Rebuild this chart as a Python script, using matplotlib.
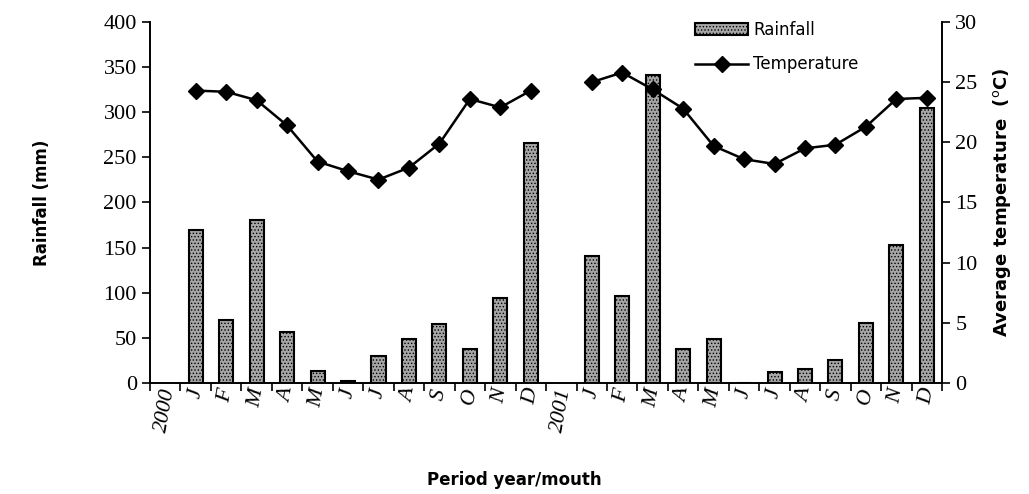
import matplotlib.pyplot as plt
import numpy as np

# x categories: year marker followed by the twelve months
months = ['J', 'F', 'M', 'A', 'M', 'J', 'J', 'A', 'S', 'O', 'N', 'D']
categories = ['2000'] + months + ['2001'] + months

# rainfall (mm)
rain_2000 = [170, 70, 181, 57, 13, 2, 30, 49, 65, 38, 94, 266]
rain_2001 = [141, 96, 341, 38, 49, 0, 12, 15, 26, 66, 153, 305]

# average temperature (deg C)
temp_2000 = [24.3, 24.2, 23.5, 21.4, 18.4, 17.6, 16.9, 17.9, 19.9, 23.6, 22.9, 24.3]
temp_2001 = [25.0, 25.8, 24.4, 22.8, 19.7, 18.6, 18.2, 19.5, 19.8, 21.3, 23.6, 23.7]

x_2000 = np.arange(1, 13)
x_2001 = np.arange(14, 26)

plt.rcParams['hatch.color'] = '#6e6e6e'
plt.rcParams['hatch.linewidth'] = 0.6

fig = plt.figure(figsize=(10.29, 4.94), dpi=100)
ax = fig.add_axes([0.1458, 0.2247, 0.7697, 0.7308])
ax2 = ax.twinx()

bar_kw = dict(width=0.46, facecolor='#a6a6a6', edgecolor='black', linewidth=1.5,
              hatch='.....')
ax.bar(x_2000, rain_2000, label='Rainfall', **bar_kw)
ax.bar(x_2001, rain_2001, **bar_kw)

line_kw = dict(color='black', linewidth=1.8, marker='D', markersize=8.5)
ax2.plot(x_2000, temp_2000, label='Temperature', **line_kw)
ax2.plot(x_2001, temp_2001, **line_kw)

ax.set_xlim(-0.5, 25.5)
ax.set_ylim(0, 400)
ax2.set_ylim(0, 30)
ax.set_yticks(np.arange(0, 401, 50))
ax2.set_yticks(np.arange(0, 31, 5))

serif = ['Liberation Serif', 'DejaVu Serif']
ax.set_xticks(np.arange(len(categories)))
ax.set_xticklabels(categories, rotation=80, fontstyle='italic', family=serif,
                   fontsize=16, ha='center')
ax.set_xticks(np.arange(-0.5, 26, 1), minor=True)
ax.tick_params(axis='x', which='major', length=0, pad=3)
ax.tick_params(axis='x', which='minor', length=6, width=1.2, direction='out')
ax.tick_params(axis='y', length=6, width=1.2, direction='out')
ax2.tick_params(axis='y', length=6, width=1.2, direction='out')
for lab in ax.get_yticklabels() + ax2.get_yticklabels():
    lab.set_family(serif)
    lab.set_fontsize(16)

for a in (ax, ax2):
    a.spines['top'].set_visible(False)
    for s in ('left', 'right', 'bottom'):
        a.spines[s].set_linewidth(1.2)

ax.set_ylabel('Rainfall (mm)', fontsize=12, fontweight='bold', labelpad=38)
ax2.set_ylabel('Average temperature  ($^{\\mathrm{o}}$C)', fontsize=13,
               fontweight='bold', labelpad=10)
fig.text(0.5, 0.018, 'Period year/mouth', ha='center', fontsize=12,
         fontweight='bold')

h1, l1 = ax.get_legend_handles_labels()
h2, l2 = ax2.get_legend_handles_labels()
ax2.legend(h1 + h2, l1 + l2, loc='upper left', bbox_to_anchor=(0.669, 1.045),
           frameon=False, fontsize=12, handlelength=3.2, labelspacing=1.0,
           handletextpad=0.3)

fig.savefig('out.png', dpi=100)
